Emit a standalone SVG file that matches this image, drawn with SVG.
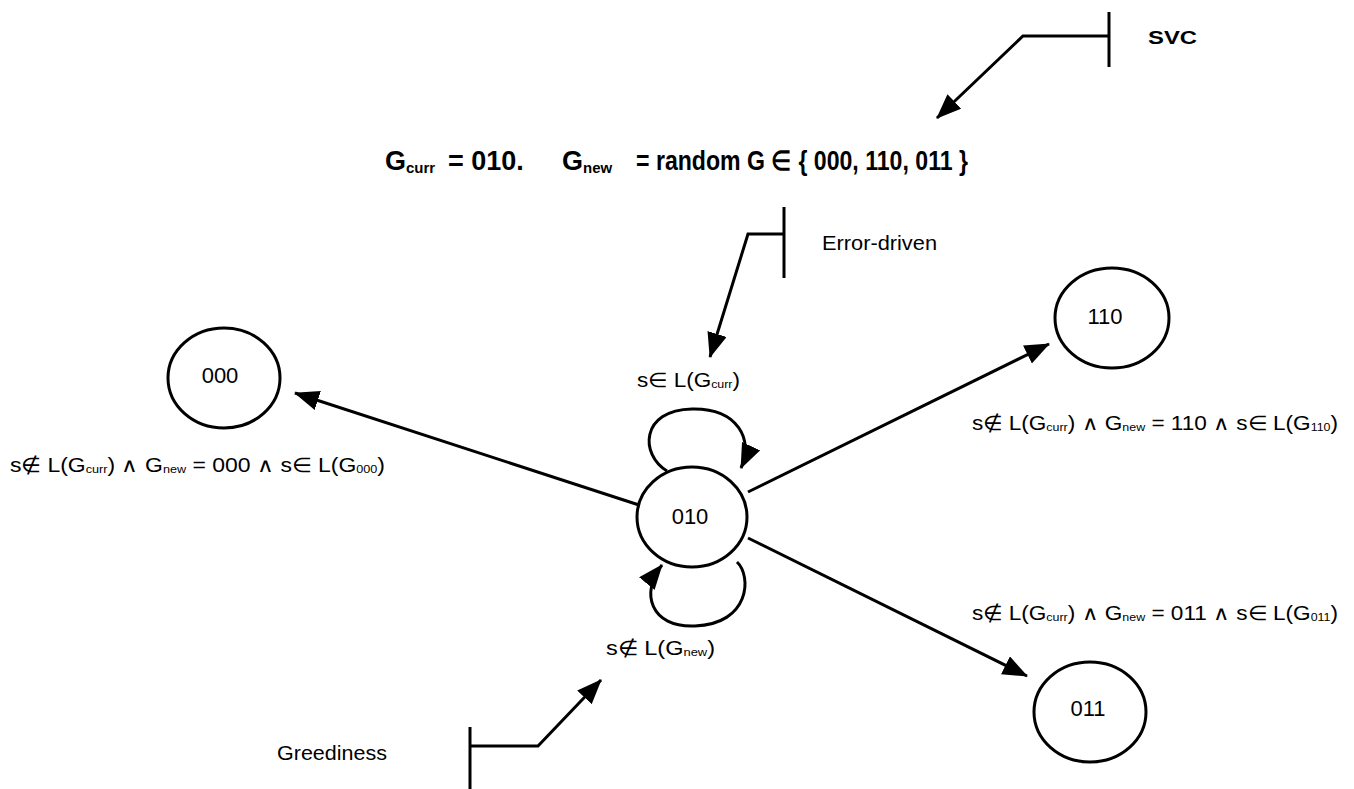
<svg xmlns="http://www.w3.org/2000/svg" width="1354" height="789" viewBox="0 0 1354 789">
  <style>
    .node { fill: #fff; stroke: #000; stroke-width: 3; }
    .edge { fill: none; stroke: #000; stroke-width: 3; }
    .txt { font-family: "Liberation Sans", Arial, sans-serif; fill: #000; }
    .lbl { font-size: 20px; }
    .nlab { font-size: 22px; text-anchor: middle; dominant-baseline: central; }
    .sub { font-size: 11px; }
  </style>
  <defs>
    <marker id="arrow" markerUnits="userSpaceOnUse" markerWidth="28" markerHeight="22" refX="24" refY="10" orient="auto">
      <path d="M0,0 L25,10 L0,20 Z" fill="#000"/>
    </marker>
  </defs>

  <!-- transitions -->
  <g id="connectors">
    <line class="edge" x1="639" y1="505" x2="295" y2="393" marker-end="url(#arrow)"/>
    <line class="edge" x1="748" y1="492" x2="1049" y2="344" marker-end="url(#arrow)"/>
    <line class="edge" x1="748" y1="538" x2="1027" y2="676" marker-end="url(#arrow)"/>
    <!-- self loop: s in L(Gcurr) -->
    <path class="edge" d="M667,471 C640,455 640,410 692,409 C738,408 754,440 741,468" marker-end="url(#arrow)"/>
    <!-- self loop: s not in L(Gnew) -->
    <path class="edge" d="M737,562 C752,576 750,624 695,626 C650,628 640,592 662,565" marker-end="url(#arrow)"/>
  </g>

  <!-- annotation pointers -->
  <g id="svc-pointer">
    <line class="edge" x1="1109" y1="12" x2="1109" y2="67"/>
    <polyline class="edge" points="1109,36 1023,36 937,118" marker-end="url(#arrow)"/>
    <text class="txt" x="1148" y="44" font-size="19" font-weight="bold" textLength="49" lengthAdjust="spacingAndGlyphs">SVC</text>
  </g>
  <g id="error-pointer">
    <line class="edge" x1="784" y1="207" x2="784" y2="278"/>
    <polyline class="edge" points="784,234 748,234 710,357" marker-end="url(#arrow)"/>
    <text class="txt" x="822" y="250" font-size="20" textLength="115" lengthAdjust="spacingAndGlyphs">Error-driven</text>
  </g>
  <g id="greediness-pointer">
    <line class="edge" x1="470" y1="727" x2="470" y2="789"/>
    <polyline class="edge" points="470,746 538,746 601,680" marker-end="url(#arrow)"/>
    <text class="txt" x="277" y="760" font-size="20" textLength="110" lengthAdjust="spacingAndGlyphs">Greediness</text>
  </g>

  <!-- header formula -->
  <g id="header" class="txt" font-size="27" font-weight="bold">
    <text x="385" y="170">G<tspan x="406" dy="3" font-size="15">curr</tspan><tspan x="448" dy="-3">= 010.</tspan><tspan x="562">G</tspan><tspan x="583" dy="3" font-size="15">new</tspan><tspan x="636" dy="-3" textLength="332" lengthAdjust="spacingAndGlyphs">= random G ∈ { 000, 110, 011 }</tspan></text>
  </g>

  <!-- states -->
  <g id="n000">
    <ellipse class="node" cx="224" cy="378" rx="56" ry="50"/>
    <text class="txt nlab" x="220" y="375">000</text>
  </g>
  <g id="n010">
    <ellipse class="node" cx="692" cy="517" rx="55" ry="50"/>
    <text class="txt nlab" x="690" y="516">010</text>
  </g>
  <g id="n110">
    <ellipse class="node" cx="1112" cy="318" rx="57" ry="50"/>
    <text class="txt nlab" x="1105" y="316">110</text>
  </g>
  <g id="n011">
    <ellipse class="node" cx="1090" cy="712" rx="56" ry="50"/>
    <text class="txt nlab" x="1088" y="708">011</text>
  </g>

  <!-- transition labels -->
  <g id="labels">
    <text class="txt lbl" x="637" y="387" textLength="103" lengthAdjust="spacingAndGlyphs">s∈ L(G<tspan class="sub" dy="1">curr</tspan><tspan dy="-1">)</tspan></text>
    <text class="txt lbl" x="606" y="655" textLength="109" lengthAdjust="spacingAndGlyphs">s∉ L(G<tspan class="sub" dy="1">new</tspan><tspan dy="-1">)</tspan></text>
    <text class="txt lbl" x="10" y="472" textLength="375" lengthAdjust="spacingAndGlyphs">s∉ L(G<tspan class="sub" dy="1">curr</tspan><tspan dy="-1">) ∧ G</tspan><tspan class="sub" dy="1">new</tspan><tspan dy="-1"> = 000 ∧ s∈ L(G</tspan><tspan class="sub" dy="1">000</tspan><tspan dy="-1">)</tspan></text>
    <text class="txt lbl" x="972" y="430" textLength="366" lengthAdjust="spacingAndGlyphs">s∉ L(G<tspan class="sub" dy="1">curr</tspan><tspan dy="-1">) ∧ G</tspan><tspan class="sub" dy="1">new</tspan><tspan dy="-1"> = 110 ∧ s∈ L(G</tspan><tspan class="sub" dy="1">110</tspan><tspan dy="-1">)</tspan></text>
    <text class="txt lbl" x="972" y="620" textLength="366" lengthAdjust="spacingAndGlyphs">s∉ L(G<tspan class="sub" dy="1">curr</tspan><tspan dy="-1">) ∧ G</tspan><tspan class="sub" dy="1">new</tspan><tspan dy="-1"> = 011 ∧ s∈ L(G</tspan><tspan class="sub" dy="1">011</tspan><tspan dy="-1">)</tspan></text>
  </g>
</svg>
